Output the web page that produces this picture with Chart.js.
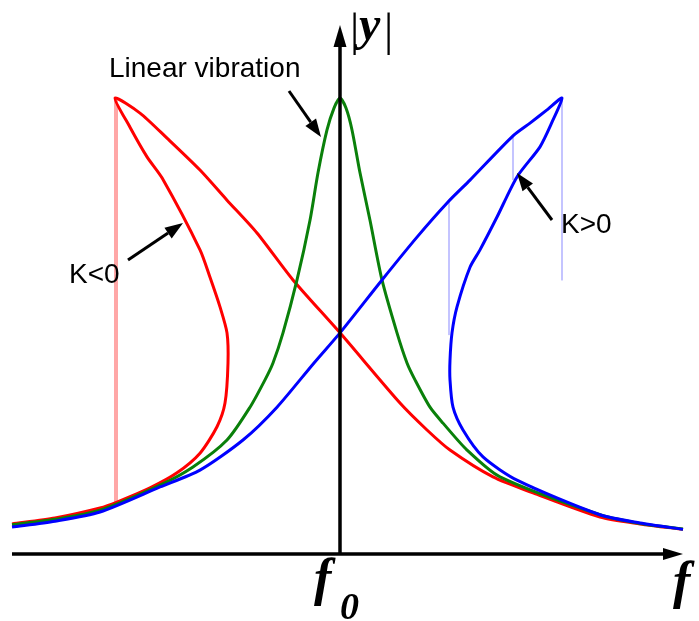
<!DOCTYPE html>
<html>
<head>
<meta charset="utf-8">
<script src="https://cdn.jsdelivr.net/npm/chart.js@4/dist/chart.umd.min.js"></script>
<style>
html,body{margin:0;padding:0;background:#fff;}
#wrap{width:699px;height:621px;position:relative;}
</style>
</head>
<body>
<div id="wrap"><canvas id="c" width="699" height="621"></canvas></div>
<script>
// Detuning (f - f0, arbitrary units) and normalized amplitude |y|
const linearX = [-3.28,-2.85,-2.40,-1.80,-1.47,-1.13,-0.90,-0.75,-0.67,-0.57,-0.43,-0.30,-0.22,-0.13,-0.06,0.00,0.06,0.12,0.20,0.30,0.42,0.57,0.67,0.75,0.90,1.03,1.27,1.60,2.60,3.00,3.43];
const linearY = [0.064,0.076,0.096,0.151,0.191,0.250,0.322,0.382,0.419,0.485,0.601,0.732,0.836,0.930,0.978,1.000,0.978,0.930,0.836,0.732,0.601,0.485,0.419,0.382,0.322,0.287,0.228,0.169,0.086,0.067,0.055];

const hardX = [-3.28,-2.85,-2.40,-1.80,-1.40,-0.97,-0.63,-0.26,0.00,0.42,0.77,1.08,1.30,1.73,1.90,2.07,2.22,2.12,2.00,1.77,1.57,1.40,1.30,1.17,1.12,1.10,1.10,1.13,1.23,1.43,1.77,2.60,3.00,3.43];
const hardY = [0.059,0.072,0.092,0.147,0.184,0.250,0.322,0.419,0.485,0.601,0.695,0.772,0.820,0.917,0.945,0.974,1.000,0.947,0.893,0.827,0.739,0.667,0.629,0.542,0.485,0.425,0.382,0.322,0.272,0.213,0.162,0.086,0.068,0.054];

const softX = [-3.28,-2.85,-2.40,-2.23,-1.90,-1.63,-1.40,-1.23,-1.15,-1.12,-1.13,-1.20,-1.30,-1.40,-1.78,-1.93,-2.10,-2.25,-2.00,-1.73,-1.40,-1.13,-0.83,-0.47,0.00,0.60,0.87,1.10,1.53,1.93,2.60,3.00,3.43];
const softY = [0.066,0.079,0.101,0.114,0.145,0.178,0.221,0.279,0.331,0.419,0.485,0.542,0.607,0.667,0.825,0.871,0.936,1.000,0.967,0.912,0.842,0.776,0.704,0.601,0.485,0.331,0.272,0.228,0.169,0.134,0.081,0.066,0.054];

// jump lines (frequency, from amplitude, to amplitude)
const softJumpX = [-2.25,-2.23];
const softJumpTop = [1.000,1.000];
const softJumpBottom = [0.114,0.114];
const hardJumpX = [1.09,1.73,2.22];
const hardJumpTop = [0.772,0.917,1.000];
const hardJumpBottom = [0.480,0.820,0.600];

const labels = {linear:"Linear vibration", soft:"K<0", hard:"K>0", yAxis:"y", f0:"f", f0sub:"0", xAxis:"f"};

const pts = (xs, ys) => xs.map((x,i)=>({x, y: ys[i]}));

const datasets = [];
softJumpX.forEach((x,i)=>datasets.push({data:[{x,y:softJumpTop[i]},{x,y:softJumpBottom[i]}],borderColor:'rgba(255,90,90,0.45)',borderWidth:1,order:5}));
hardJumpX.forEach((x,i)=>datasets.push({data:[{x,y:hardJumpTop[i]},{x,y:hardJumpBottom[i]}],borderColor:'rgba(60,60,255,0.22)',borderWidth:1,order:5}));
datasets.push({label:'K<0',data:pts(softX,softY),borderColor:'#ff0000',borderWidth:3,order:3,tension:0.25});
datasets.push({label:'linear',data:pts(linearX,linearY),borderColor:'#0a800a',borderWidth:3,order:2,tension:0.25});
datasets.push({label:'K>0',data:pts(hardX,hardY),borderColor:'#0000ff',borderWidth:3,order:1,tension:0.25});
datasets.forEach(d=>{d.showLine=true;d.pointRadius=0;d.fill=false;});

function arrow(ctx,x1,y1,x2,y2,hl,hw,lw){
  const a=Math.atan2(y2-y1,x2-x1);
  const bx=x2-hl*Math.cos(a), by=y2-hl*Math.sin(a);
  ctx.beginPath();ctx.lineWidth=lw;ctx.moveTo(x1,y1);ctx.lineTo(bx,by);ctx.stroke();
  ctx.beginPath();
  ctx.moveTo(x2,y2);
  ctx.lineTo(bx+hw*Math.sin(a),by-hw*Math.cos(a));
  ctx.lineTo(bx-hw*Math.sin(a),by+hw*Math.cos(a));
  ctx.closePath();ctx.fill();
}

const overlay = {
  id:'overlay',
  afterDatasetsDraw(chart){
    const ctx=chart.ctx, xs=chart.scales.x, ys=chart.scales.y;
    const x0=xs.getPixelForValue(0), y0=ys.getPixelForValue(0);
    ctx.save();
    ctx.strokeStyle='#000';ctx.fillStyle='#000';ctx.lineCap='butt';
    // axes
    arrow(ctx, xs.getPixelForValue(-3.28), y0, xs.getPixelForValue(3.43), y0, 20, 6, 3.5);
    arrow(ctx, x0, y0, x0, ys.getPixelForValue(1.16), 22, 6.5, 3.5);
    // annotation arrows
    arrow(ctx,289,91,321,137,18,6.5,3);
    arrow(ctx,128,260,183,223,18,6.5,3);
    arrow(ctx,552,220,517,173,18,6.5,3);
    // texts
    ctx.textBaseline='alphabetic';ctx.textAlign='left';
    ctx.font='28px "Liberation Sans", Arial, sans-serif';
    ctx.fillText(labels.linear,109,77);
    ctx.fillText(labels.soft,69,283);
    ctx.fillText(labels.hard,561,233);
    // |y|
    ctx.font='46px "Liberation Serif", "Times New Roman", serif';
    ctx.fillText('|',350,45);
    ctx.fillText('|',384,45);
    ctx.font='italic bold 48px "Liberation Serif", "Times New Roman", serif';
    ctx.fillText(labels.yAxis,359,40);
    // f0
    ctx.font='italic bold 52px "Liberation Serif", "Times New Roman", serif';
    ctx.fillText(labels.f0,314,595);
    ctx.font='italic bold 38px "Liberation Serif", "Times New Roman", serif';
    ctx.fillText(labels.f0sub,340,619);
    ctx.font='italic bold 52px "Liberation Serif", "Times New Roman", serif';
    ctx.fillText(labels.xAxis,673,598);
    ctx.restore();
  }
};

new Chart(document.getElementById('c'),{
  type:'scatter',
  data:{datasets},
  options:{
    responsive:false,animation:false,
    layout:{padding:{left:0,right:0,top:0,bottom:67}},
    plugins:{legend:{display:false},tooltip:{enabled:false}},
    scales:{
      x:{type:'linear',min:-3.40,max:3.59,display:false},
      y:{type:'linear',min:0,max:1.215,display:false}
    }
  },
  plugins:[overlay]
});
</script>
</body>
</html>
